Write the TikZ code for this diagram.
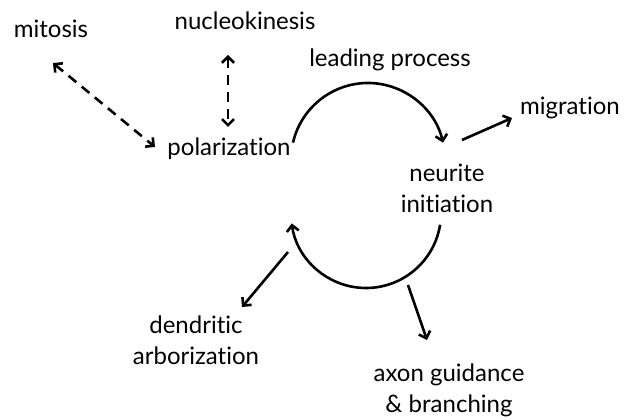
\documentclass[tikz,border=0pt]{standalone}
\usepackage{fontspec}
\setmainfont[Ligatures=NoCommon]{Lato}
\usetikzlibrary{positioning, arrows.meta, calc}

\begin{document}
\begin{tikzpicture}[
        x=1pt, y=1pt,
        every node/.style={font=\fontsize{24}{31}\selectfont, inner sep=0pt},
        lbl/.style={anchor=base, align=center},
        arrow/.style={-{Straight Barb[length=6pt, width=12pt]}, line width=2.6pt},
        dasharrow/.style={{Straight Barb[length=6pt, width=12pt]}-{Straight Barb[length=6pt, width=12pt]}, line width=2.6pt, dash pattern=on 10pt off 7pt}
    ]
    \useasboundingbox (0,0) rectangle (626,420);

    % Nodes
    \node[lbl] (mit) at (51,382) {mitosis};
    \node[lbl] (nuc) at (245,390) {nucleokinesis};
    \node[lbl] (lead) at (390,353) {leading process};
    \node[lbl] (pol) at (229,264) {polarization};
    \node[lbl] (mig) at (570,305) {migration};
    \node[lbl] (neu) at (447,207) {neurite\\initiation};
    \node[lbl] (den) at (196,55) {dendritic\\arborization};
    \node[lbl] (axon) at (449,8) {axon guidance\\\& branching};

    % Cycle centres
    \coordinate (upc) at (368,260);
    \coordinate (loc) at (366,207);

    % Cycle arrows
    \draw[arrow] ($(upc)+(167:77)$) arc[start angle=167, end angle=13, radius=77];
    \draw[arrow] ($(loc)+(-9:75)$) arc[start angle=-9, end angle=-172, radius=75];

    % Dashed arrows
    \draw[dasharrow] ([shift={(2,-25)}]mit.base) -- ([shift={(-74,9)}]pol.base);
    \draw[dasharrow] ([shift={(-17,-25)}]nuc.base) -- ([shift={(-1,29)}]pol.base);

    % Outgoing arrows
    \draw[arrow] ([shift={(94,20)}]upc) -- ([shift={(-58,-3)}]mig.base);
    \draw[arrow] ([shift={(-78,-39)}]loc) -- ([shift={(46,58)}]den.base);
    \draw[arrow] ([shift={(42,-72)}]loc) -- ([shift={(-22,72)}]axon.base);

\end{tikzpicture}
\end{document}
